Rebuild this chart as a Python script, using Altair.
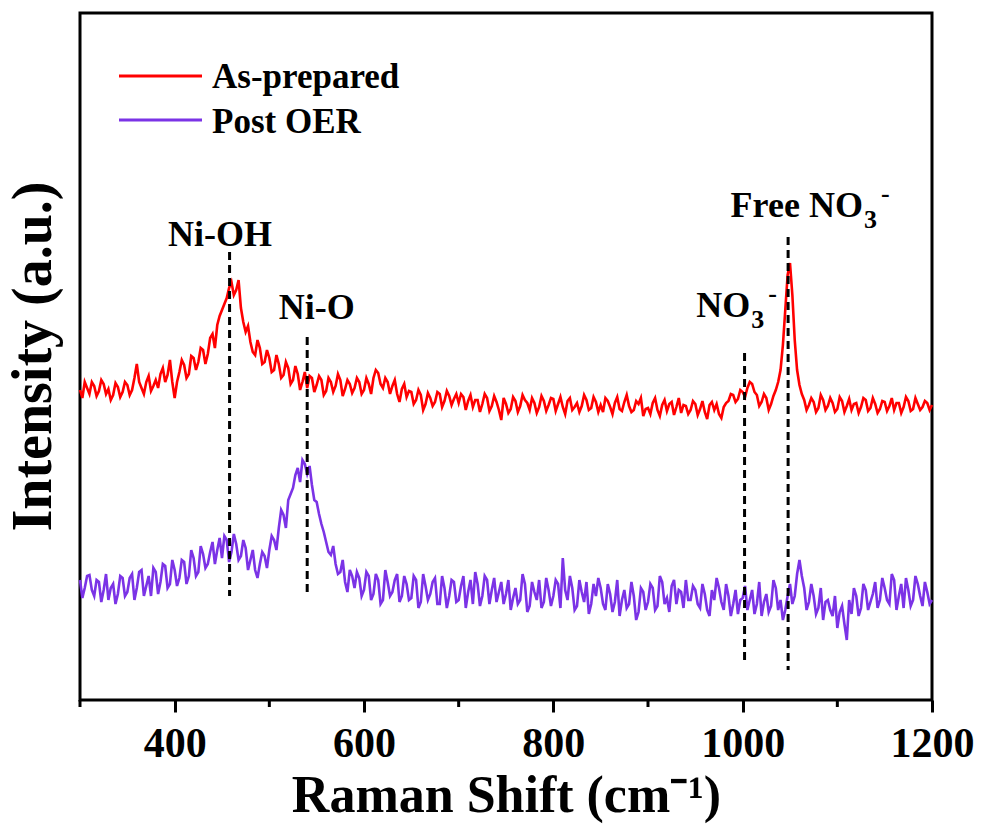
import altair as alt
import pandas as pd

FONT = "Liberation Serif"

# ---------------- data ----------------
# readings every 5 cm-1 (300 ... 1200) and in-between readings (302.5 ... 1197.5)
raman_shift = list(range(300, 1201, 5))
raman_shift_mid = [s + 2.5 for s in range(300, 1200, 5)]

as_prepared = [
    310, 318, 306, 314, 309, 316, 311, 305, 313, 308,
    315, 310, 336, 312, 318, 309, 320, 326, 318, 340,
    302, 328, 335, 326, 342, 338, 350, 346, 366, 375,
    390, 402, 418, 410, 392, 368, 358, 345, 352, 338,
    342, 330, 336, 325, 332, 320, 326, 318, 312, 322,
    315, 320, 309, 318, 314, 320, 311, 316, 312, 318,
    310, 316, 322, 327, 312, 318, 314, 306, 311, 303,
    308, 300, 305, 296, 302, 298, 306, 299, 304, 301,
    297, 303, 299, 293, 300, 296, 302, 294, 298, 280,
    296, 291, 299, 294, 300, 290, 297, 293, 299, 295,
    301, 296, 293, 299, 290, 297, 294, 300, 292, 298,
    295, 302, 293, 297, 291, 298, 294, 290, 296, 284,
    292, 297, 290, 295, 289, 298, 293, 287, 294, 290,
    296, 291, 288, 295, 290, 286, 293, 299, 305, 301,
    308, 312, 316, 305, 298, 302, 296, 310, 330, 390,
    437, 360, 315, 300, 295, 298, 292, 300, 294, 297,
    291, 299, 294, 290, 297, 293, 300, 292, 296, 291,
    298, 294, 290, 297, 293, 299, 291, 296, 293, 297,
    295,
]
as_prepared_mid = [
    302, 312, 318, 304, 320, 306, 300, 317, 303, 318,
    305, 322, 318, 306, 324, 314, 312, 332, 325, 318,
    318, 340, 322, 344, 330, 352, 336, 362, 352, 384,
    396, 412, 405, 420, 378, 374, 348, 360, 336, 350,
    328, 345, 322, 338, 316, 334, 310, 328, 324, 308,
    324, 305, 322, 308, 326, 304, 320, 307, 322, 306,
    322, 306, 330, 316, 322, 306, 320, 298, 316, 309,
    296, 310, 290, 307, 294, 308, 293, 309, 295, 306,
    306, 290, 305, 300, 288, 306, 289, 304, 290, 302,
    287, 303, 288, 305, 297, 302, 287, 304, 289, 302,
    289, 303, 286, 302, 293, 288, 305, 290, 303, 288,
    288, 299, 286, 303, 289, 305, 288, 299, 302, 291,
    286, 302, 284, 300, 296, 285, 302, 295, 286, 299,
    285, 299, 281, 298, 296, 282, 297, 306, 298, 310,
    303, 318, 308, 294, 306, 290, 304, 318, 355, 425,
    405, 330, 306, 290, 302, 288, 305, 290, 302, 288,
    303, 288, 301, 296, 287, 302, 289, 302, 287, 299,
    289, 302, 297, 287, 303, 289, 302, 290, 299, 290,
]

post_oer = [
    120, 112, 125, 104, 118, 110, 100, 116, 106, 122,
    108, 126, 112, 130, 114, 104, 128, 118, 134, 116,
    130, 122, 138, 124, 142, 128, 146, 136, 158, 150,
    142, 160, 148, 156, 144, 152, 140, 130, 136, 144,
    150, 160, 172, 185, 200, 212, 232, 240, 226, 215,
    198, 176, 158, 145, 136, 128, 118, 130, 112, 122,
    110, 124, 106, 120, 100, 118, 108, 126, 104, 116,
    102, 120, 98, 114, 106, 122, 96, 112, 104, 118,
    100, 124, 108, 96, 116, 104, 120, 110, 98, 118,
    106, 90, 112, 100, 116, 94, 108, 120, 98, 110,
    104, 116, 142, 100, 112, 94, 108, 118, 96, 104,
    112, 90, 106, 98, 84, 110, 96, 104, 88, 108,
    98, 112, 94, 118, 102, 114, 96, 108, 120, 100,
    110, 92, 106, 84, 100, 112, 90, 104, 96, 86,
    102, 90, 110, 96, 84, 106, 94, 112, 100, 90,
    116, 104, 140, 112, 98, 104, 92, 80, 100, 84,
    72, 94, 60, 86, 104, 92, 110, 98, 118, 100,
    112, 96, 120, 104, 92, 110, 100, 116, 94, 108,
    100,
]
post_oer_mid = [
    102, 124, 110, 120, 98, 126, 112, 96, 124, 104,
    122, 100, 128, 104, 124, 132, 106, 136, 112, 140,
    114, 140, 116, 150, 124, 154, 132, 148, 136, 162,
    164, 138, 166, 140, 160, 130, 150, 122, 148, 132,
    164, 150, 190, 172, 206, 225, 218, 236, 234, 200,
    186, 168, 148, 154, 126, 140, 108, 124, 128, 104,
    128, 100, 126, 96, 130, 104, 120, 98, 124, 100,
    124, 92, 126, 100, 118, 96, 124, 92, 120, 98,
    114, 92, 120, 128, 94, 124, 96, 122, 108, 96,
    120, 102, 96, 126, 88, 118, 100, 92, 122, 94,
    120, 92, 110, 124, 90, 120, 98, 86, 116, 122,
    96, 116, 88, 120, 100, 92, 118, 80, 112, 90,
    116, 90, 124, 96, 88, 120, 110, 92, 100, 114,
    96, 116, 90, 110, 122, 98, 116, 84, 110, 100,
    114, 100, 86, 118, 98, 88, 120, 90, 80, 104,
    96, 126, 124, 90, 116, 86, 112, 98, 90, 104,
    88, 76, 100, 112, 84, 116, 90, 106, 92, 122,
    100, 126, 90, 116, 122, 94, 124, 104, 118, 96,
]

series_names = ["As-prepared", "Post OER"]
series_colors = ["#FF0000", "#7B33E6"]

# dashed reference lines (position, top, bottom in intensity units)
peak_positions = [458, 540, 1002, 1048]
peak_top = [448, 363, 347, 463]
peak_bottom = [104, 107, 38, 30]

# annotations
label_text = ["Ni-OH", "Ni-O"]
label_x = [448, 550]
label_y = [454, 381]

nitrate_text = ["NO", "Free NO"]
nitrate_x = [1008, 1127]
nitrate_y = [383, 483]

major_ticks = [400, 600, 800, 1000, 1200]
minor_ticks = [300, 500, 700, 900, 1100]

x_domain = [300, 1200]
y_domain = [0, 687]

# ---------------- tables ----------------
frames = []
for name, xs_, vals in [
    (series_names[0], raman_shift, as_prepared),
    (series_names[0], raman_shift_mid, as_prepared_mid),
    (series_names[1], raman_shift, post_oer),
    (series_names[1], raman_shift_mid, post_oer_mid),
]:
    frames.append(pd.DataFrame({"shift": xs_, "intensity": vals, "series": name}))
spec_df = pd.concat(frames).sort_values(["series", "shift"]).reset_index(drop=True)

peaks_df = pd.DataFrame({"pos": peak_positions, "top": peak_top, "bottom": peak_bottom})
labels_df = pd.DataFrame({"x": label_x, "y": label_y, "text": label_text})
nitrate_df = pd.DataFrame({"x": nitrate_x, "y": nitrate_y, "text": nitrate_text})
minor_df = pd.DataFrame({"tick": minor_ticks})

xs = alt.Scale(domain=x_domain, nice=False, zero=False)
ys = alt.Scale(domain=y_domain, nice=False, zero=False)

x_axis = alt.Axis(
    values=major_ticks, format="d", tickSize=12, tickWidth=3, tickColor="black",
    domain=False, grid=False, labelFlush=False, labelOverlap=False,
    labelFont=FONT, labelFontSize=42, labelFontWeight="bold", labelColor="black",
    labelPadding=11,
    title="Raman Shift (cm\u207b\u00b9)", titleFont=FONT, titleFontSize=52,
    titleFontWeight="bold", titleColor="black", titleY=111, titleBaseline="alphabetic",
)
y_axis = alt.Axis(
    ticks=False, labels=False, domain=False, grid=False,
    title="Intensity (a.u.)", titleFont=FONT, titleFontSize=56, titleFontWeight="bold",
    titleColor="black", titleAngle=-90, titleX=-30, titleY=343,
    titleAlign="center", titleBaseline="alphabetic",
)


def X(field):
    return alt.X(field, scale=xs, axis=x_axis)


def Y(field):
    return alt.Y(field, scale=ys, axis=y_axis)


lines = alt.Chart(spec_df).mark_line(strokeWidth=2.6).encode(
    x=X("shift:Q"),
    y=Y("intensity:Q"),
    color=alt.Color("series:N", scale=alt.Scale(domain=series_names, range=series_colors), legend=None),
    detail="series:N",
    order="shift:Q",
)

dashes = alt.Chart(peaks_df).mark_rule(color="black", strokeWidth=3, strokeDash=[8, 5]).encode(
    x=X("pos:Q"),
    y=Y("top:Q"),
    y2="bottom:Q",
)

minor = alt.Chart(minor_df).mark_rule(color="black", strokeWidth=3).encode(
    x=X("tick:Q"),
    y=alt.value(687),
    y2=alt.value(694),
)

txt = dict(font=FONT, fontWeight="bold", color="black", baseline="alphabetic")

labels = alt.Chart(labels_df).mark_text(fontSize=36, align="center", **txt).encode(
    x=X("x:Q"), y=Y("y:Q"), text="text:N",
)
nit_main = alt.Chart(nitrate_df).mark_text(fontSize=36, align="right", **txt).encode(
    x=X("x:Q"), y=Y("y:Q"), text="text:N",
)
nit_sub = alt.Chart(nitrate_df).mark_text(fontSize=26, align="left", dx=1, dy=11, **txt).encode(
    x=X("x:Q"), y=Y("y:Q"), text=alt.value("3"),
)
nit_sup = alt.Chart(nitrate_df).mark_text(fontSize=26, align="left", dx=18, dy=-15, **txt).encode(
    x=X("x:Q"), y=Y("y:Q"), text=alt.value("-"),
)

legend_layers = []
legend_line_y = [63, 107]
legend_text_y = [75, 120]
for i, name in enumerate(series_names):
    d = pd.DataFrame({"name": [name]})
    legend_layers.append(
        alt.Chart(d).mark_rule(strokeWidth=3, color=series_colors[i]).encode(
            x=alt.value(39), x2=alt.value(122), y=alt.value(legend_line_y[i])
        )
    )
    legend_layers.append(
        alt.Chart(d).mark_text(fontSize=35, align="left", **txt).encode(
            x=alt.value(132), y=alt.value(legend_text_y[i]), text="name:N"
        )
    )

chart = alt.layer(lines, dashes, minor, labels, nit_main, nit_sub, nit_sup, *legend_layers).properties(
    width=852, height=687, autosize="none",
    padding={"left": 80, "top": 13, "right": 52, "bottom": 132},
    background="white",
).configure_view(stroke="black", strokeWidth=3)

chart.save("out.html", embed_options={"renderer": "svg", "actions": False})
